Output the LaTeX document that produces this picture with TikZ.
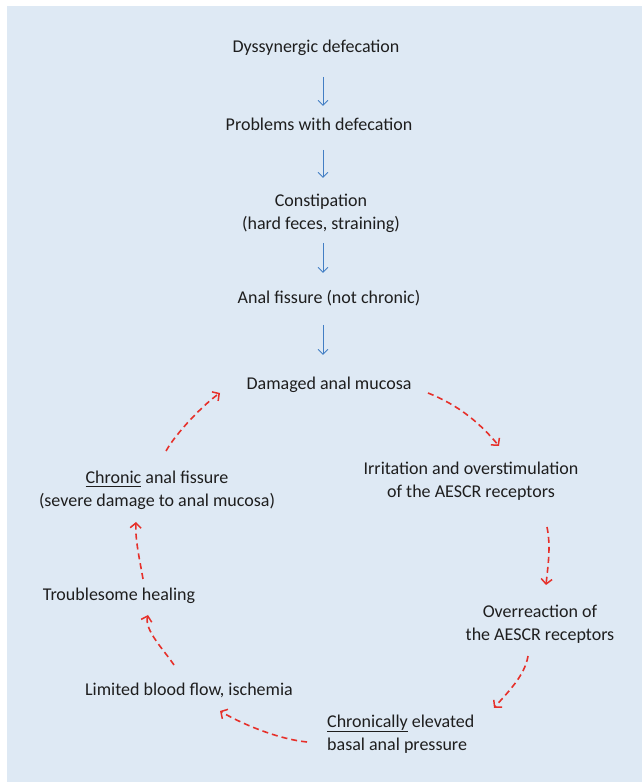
\documentclass[tikz,border=0pt]{standalone}
\usepackage{fontspec}
\setmainfont{Carlito}
\usetikzlibrary{arrows.meta}
\definecolor{panel}{RGB}{222,233,244}
\definecolor{bluearr}{RGB}{66,126,196}
\definecolor{redarr}{RGB}{230,48,42}
\definecolor{txt}{RGB}{30,30,30}
\newcommand\ulx[1]{\setbox0=\hbox{#1}\rlap{\rule[-4pt]{\wd0}{1.2pt}}\box0\relax}
\tikzset{
  lbl/.style={inner sep=0pt, text=txt, font=\fontsize{18}{23}\selectfont},
  barrow/.style={draw=bluearr, line width=0.9pt, -{Straight Barb[length=5pt,width=10pt,line width=0.9pt]}},
  rarrow/.style={draw=redarr, line width=1.6pt, dash pattern=on 6pt off 4pt, -{Straight Barb[length=5pt,width=11pt,line width=1.5pt]}}
}
\begin{document}
\begin{tikzpicture}[x=1pt,y=1pt]
\useasboundingbox (0,0) rectangle (642,782);
\fill[panel] (7,0) rectangle (642,776);

\node[lbl] (dys) at (316,734) {Dyssynergic defecation};
\node[lbl] (prob) at (319,658) {Problems with defecation};
\node[lbl, align=center] (const) at (321,569) {Constipation\\(hard feces, straining)};
\node[lbl] (anal) at (329,484) {Anal fissure (not chronic)};
\node[lbl] (dam) at (329,397) {Damaged anal mucosa};
\node[lbl, align=center] (irr) at (471,301) {Irritation and overstimulation\\of the AESCR receptors};
\node[lbl, align=center] (over) at (540,158) {Overreaction of\\the AESCR receptors};
\node[lbl, align=left, anchor=west] (chr) at (327,47.5) {\ulx{Chronically} elevated\\basal anal pressure};
\node[lbl] (lim) at (189,92) {Limited blood flow, ischemia};
\node[lbl] (trb) at (119,186) {Troublesome healing};
\node[lbl, align=center] (chf) at (157,292) {\ulx{Chronic} anal fissure\\(severe damage to anal mucosa)};

\draw[barrow] ([shift={(7,-29)}]dys.center) -- ([shift={(4,18)}]prob.center);
\draw[barrow] ([shift={(4,-26)}]prob.center) -- ([shift={(2,35)}]const.center);
\draw[barrow] ([shift={(2,-30)}]const.center) -- ([shift={(-6,25)}]anal.center);
\draw[barrow] ([shift={(-6,-27)}]anal.center) -- ([shift={(-6,30)}]dam.center);

\draw[rarrow] ([shift={(99,-8)}]dam.center) .. controls +(30,-12) and +(-20,24) .. ([shift={(28,35)}]irr.center);
\draw[rarrow] ([shift={(76,-46)}]irr.center) .. controls +(4,-20) and +(2,20) .. ([shift={(6,39)}]over.center);
\draw[rarrow] ([shift={(-12,-32)}]over.center) .. controls +(-3,-20) and +(12,14) .. ([shift={(167,26.5)}]chr.west);
\draw[rarrow] ([shift={(-20,-7.5)}]chr.west) .. controls +(-30,3) and +(20,-12) .. ([shift={(31,-21)}]lim.center);
\draw[rarrow] ([shift={(-15,25)}]lim.center) .. controls +(-10,15) and +(-4,-15) .. ([shift={(29,-19)}]trb.center);
\draw[rarrow] ([shift={(24,17)}]trb.center) .. controls +(-3,18) and +(-1,-18) .. ([shift={(-21,-32)}]chf.center);
\draw[rarrow] ([shift={(9,39)}]chf.center) .. controls +(10,18) and +(-16,-11) .. ([shift={(-109,-8)}]dam.center);
\end{tikzpicture}
\end{document}
